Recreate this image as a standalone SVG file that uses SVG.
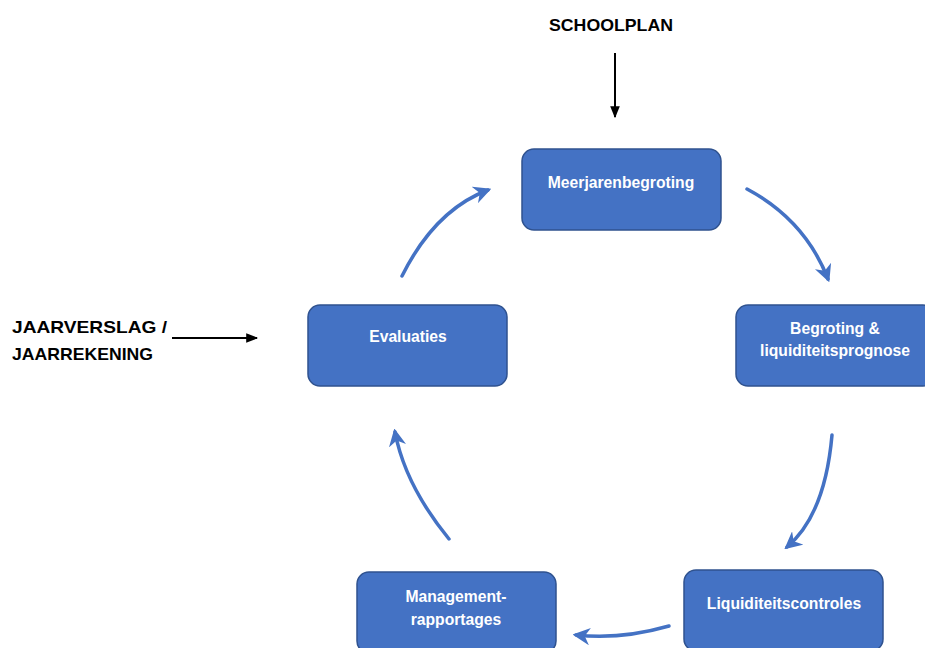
<svg xmlns="http://www.w3.org/2000/svg" width="925" height="648" viewBox="0 0 925 648">
<defs>
<style>
.box{fill:#4472C4;stroke:#2F528F;stroke-width:1.5}
.bt{fill:#fff;font-family:"Liberation Sans",Arial,sans-serif;font-weight:bold;font-size:15.7px;text-anchor:middle}
.lt{fill:#000;font-family:"Liberation Sans",Arial,sans-serif;font-weight:bold;font-size:17px}
.blue{fill:none;stroke:#4472C4;stroke-width:3.5;stroke-linecap:round}
.blk{fill:none;stroke:#000;stroke-width:2}
</style>
<marker id="ah" viewBox="0 0 10 10" refX="8" refY="5" markerWidth="5" markerHeight="5" orient="auto" markerUnits="strokeWidth">
<path d="M0,0 L10,5 L0,10 L3,5 Z" fill="#4472C4"/>
</marker>
<marker id="bh" viewBox="0 0 10 10" refX="9" refY="5" markerWidth="6" markerHeight="6" orient="auto" markerUnits="strokeWidth">
<path d="M0,1 L10,5 L0,9 Z" fill="#000"/>
</marker>
</defs>
<rect width="925" height="648" fill="#fff"/>
<g id="connectors">
<path class="blk" d="M615,53 L615,117" marker-end="url(#bh)"/>
<path class="blk" d="M172,338 L257,338" marker-end="url(#bh)"/>
<path class="blue" d="M402,276 Q435,210 488,190" marker-end="url(#ah)"/>
<path class="blue" d="M747,189 Q805,220 828,279" marker-end="url(#ah)"/>
<path class="blue" d="M832,435 Q825,515 787,547" marker-end="url(#ah)"/>
<path class="blue" d="M669,626 Q620,640 576,635" marker-end="url(#ah)"/>
<path class="blue" d="M449,539 Q405,485 395,432" marker-end="url(#ah)"/>
</g>
<g id="schoolplan"><text class="lt" x="549" y="31" textLength="124" lengthAdjust="spacingAndGlyphs">SCHOOLPLAN</text></g>
<g id="jaarverslag"><text class="lt" x="12" y="333" textLength="155" lengthAdjust="spacingAndGlyphs">JAARVERSLAG /</text><text class="lt" x="12" y="360" textLength="141" lengthAdjust="spacingAndGlyphs">JAARREKENING</text></g>
<g id="meerjarenbegroting"><rect class="box" x="522" y="149" width="199" height="81" rx="12"/><text class="bt" x="621" y="188">Meerjarenbegroting</text></g>
<g id="begroting"><rect class="box" x="736" y="305" width="199" height="81" rx="12"/><text class="bt" x="835" y="334">Begroting &amp;</text><text class="bt" x="835" y="356">liquiditeitsprognose</text></g>
<g id="evaluaties"><rect class="box" x="308" y="305" width="199" height="81" rx="12"/><text class="bt" x="408" y="342">Evaluaties</text></g>
<g id="management"><rect class="box" x="357" y="572" width="199" height="81" rx="12"/><text class="bt" x="456" y="602">Management-</text><text class="bt" x="456" y="625">rapportages</text></g>
<g id="liquiditeitscontroles"><rect class="box" x="684" y="570" width="199" height="81" rx="12"/><text class="bt" x="784" y="609">Liquiditeitscontroles</text></g>
</svg>
